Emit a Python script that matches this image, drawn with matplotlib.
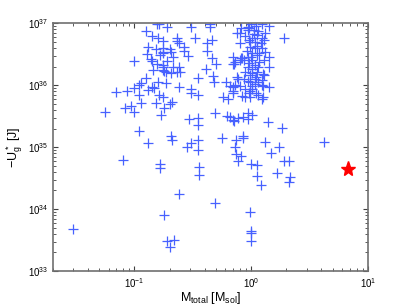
import numpy as np
import matplotlib.pyplot as plt

plt.rcParams['font.family'] = ['Liberation Sans', 'DejaVu Sans']
plt.rcParams['mathtext.default'] = 'regular'

# log10 of total mass [Msol] and log10 of -U_g* [J]
log_m = [
    -0.90, -0.81, -0.79, -0.72, -0.85, -0.80, -0.76, -0.64, -0.64, -0.62,
    -0.88, -0.82, -0.76, -0.76, -0.70, -0.69, -0.58, -0.58, -0.52, -0.48,
    -0.54, -0.89, -0.86, -0.85, -0.78, -0.76, -0.67, -0.72, -1.00, -0.81,
    -0.76, -0.76, -0.76, -0.75, -0.84, -0.67, -0.64, -0.62, -0.61, -0.73,
    -0.69, -0.90, -0.94, -0.96, -0.80, -0.73, -0.46, -0.85, -0.83, -0.62,
    -1.16, -1.06, -1.00, -0.96, -0.88, -0.79, -0.76, -0.52, -0.52, -0.46,
    -1.03, -1.08, -1.00, -0.94, -0.82, -0.75, -0.70, -0.68, -0.77, -1.25,
    -0.53, -0.46, -0.46, -0.96, -0.88, -0.69, -0.68, -0.55, -0.52, -0.46,
    -0.35, -0.35, -0.12, -0.10, -0.09, 0.00, 0.09, 0.15, -0.03, 0.02,
    0.28, -0.38, -0.34, -0.38, -0.34, -0.30, -0.39, -0.33, -0.32, -0.16,
    -0.16, -0.09, -0.10, -0.12, -0.11, -0.22, -0.18, -0.16, -0.16, -0.16,
    -0.24, -0.20, -0.08, -0.02, -0.01, 0.06, 0.10, 0.10, 0.15, 0.09,
    0.10, 0.15, 0.15, -0.31, -0.21, -0.18, -0.16, -0.11, -0.07, -0.03,
    0.01, 0.14, 0.26, -0.25, -0.13, -0.07, -0.07, -0.14, 0.12, 0.24,
    0.62, -1.10, -0.78, -0.78, -0.46, -0.45, -0.45, -0.62, -0.75, -1.53,
    -0.72, -0.66, -0.70, -0.13, -0.09, -0.11, 0.17, 0.00, 0.05, 0.28,
    0.32, 0.22, 0.05, 0.08, 0.33, 0.32, -0.31, -0.01, 0.00, 0.00,
    0.00, -0.03, 0.12, 0.05, 0.01, -0.02, 0.03, 0.08, 0.11, -0.01,
    0.03, 0.09, 0.12, 0.01, 0.05, -0.10, -0.03, -0.08, -0.06, 0.01,
    0.07, 0.11, -0.14, -0.15, -0.03, 0.01, 0.05, 0.11, -0.01, 0.03,
    -0.06, -0.01, 0.03, 0.09, -0.14, -0.10, -0.05, 0.01, -0.05, 0.09,
    -0.15, -0.03, -0.02, 0.04, 0.06, -0.05, 0.02, 0.09, -0.01, 0.05,
    -0.04, 0.07, 0.00, 0.03, -0.02, 0.06, -0.05, 0.01, 0.04, -0.03,
    0.06, 0.01, -0.01, 0.04,
]
log_u = [
    36.87, 36.98, 36.98, 36.94, 36.79, 36.76, 36.71, 36.76, 36.71, 36.68,
    36.61, 36.58, 36.60, 36.53, 36.58, 36.53, 36.61, 36.56, 36.94, 36.76,
    36.47, 36.50, 36.42, 36.39, 36.48, 36.52, 36.45, 36.39, 36.39, 36.34,
    36.32, 36.29, 36.24, 36.23, 36.24, 36.29, 36.21, 36.29, 36.21, 36.21,
    36.19, 36.11, 36.03, 36.00, 36.05, 36.03, 36.11, 35.97, 35.95, 35.97,
    35.89, 35.90, 35.95, 35.85, 35.92, 35.84, 35.81, 35.94, 35.87, 35.85,
    35.66, 35.63, 35.56, 35.71, 35.71, 35.63, 35.69, 35.73, 35.52, 35.56,
    35.45, 35.47, 35.35, 35.26, 35.06, 35.18, 35.11, 35.00, 35.06, 35.11,
    36.99, 36.94, 36.84, 36.84, 36.92, 36.99, 36.99, 36.95, 36.89, 36.89,
    36.76, 36.68, 36.73, 36.55, 36.44, 36.34, 36.26, 36.15, 36.05, 36.45,
    36.35, 36.44, 36.40, 36.13, 36.10, 36.05, 35.98, 35.97, 35.90, 35.87,
    35.81, 35.77, 35.82, 35.87, 35.81, 35.84, 35.81, 35.98, 35.97, 36.08,
    36.18, 36.29, 36.45, 35.55, 35.50, 35.48, 35.44, 35.47, 35.48, 35.55,
    35.52, 35.40, 35.31, 35.15, 35.11, 35.18, 35.15, 35.00, 35.08, 35.00,
    35.08, 34.79, 34.73, 34.66, 34.95, 34.68, 34.55, 34.24, 33.90, 33.68,
    33.48, 33.50, 33.39, 34.89, 34.85, 34.77, 34.90, 34.73, 34.71, 34.77,
    34.77, 34.58, 34.53, 34.39, 34.52, 34.44, 34.10, 33.95, 33.65, 33.61,
    33.48, 36.94, 36.84, 36.81, 36.77, 36.73, 36.69, 36.68, 36.73, 36.61,
    36.60, 36.60, 36.53, 36.52, 36.48, 36.68, 36.45, 36.44, 36.40, 36.40,
    36.37, 36.40, 36.37, 36.34, 36.29, 36.26, 36.21, 36.16, 36.16, 36.10,
    36.10, 36.05, 36.02, 36.00, 36.00, 35.98, 35.94, 35.94, 35.81, 35.77,
    35.42, 35.45, 36.92, 36.95, 36.88, 36.80, 36.83, 36.76, 36.70, 36.64,
    36.55, 36.52, 36.46, 36.33, 36.36, 36.30, 36.22, 36.19, 36.13, 36.07,
    36.05, 35.99, 35.90, 35.88,
]

star_m = 6.7
star_u = 4.5e34

fig = plt.figure(figsize=(4.07, 3.06), dpi=100)
ax = fig.add_axes([0.13, 0.114, 0.774, 0.81])

ax.plot(10 ** np.array(log_m), 10 ** np.array(log_u), '+',
        color=(0.28, 0.38, 1.0), ms=6.5, mew=0.9)
ax.plot(star_m, star_u, '*', color='red', ms=11)

ax.set_xscale('log')
ax.set_yscale('log')
ax.set_xlim(0.02, 10)
ax.set_ylim(1e33, 1e37)

ax.tick_params(which='both', direction='in', top=True, right=True,
               labelsize=7, color='#404040')
ax.tick_params(which='major', length=3.5)
ax.tick_params(which='minor', length=2)
for s in ax.spines.values():
    s.set_color('#707070')
    s.set_linewidth(1.2)

ax.set_xlabel(r'$M_{total}$ [$M_{sol}$]', fontsize=9, labelpad=0)
ax.set_ylabel(r'$-U_g^*$ [J]', fontsize=9, labelpad=2)

fig.savefig('out.png', dpi=100)
